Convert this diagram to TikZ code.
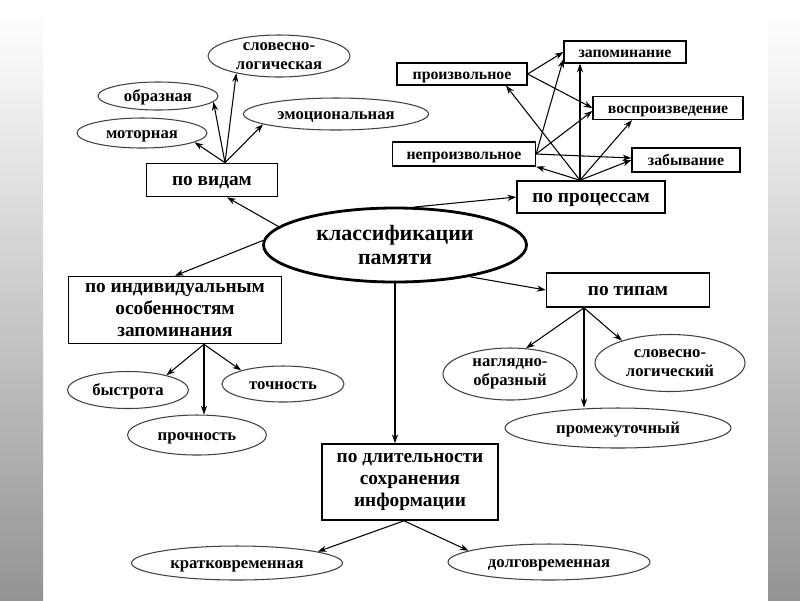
\documentclass[tikz,border=0pt]{standalone}
\usepackage{fontspec}
\setmainfont{Liberation Serif}
\usetikzlibrary{shapes.geometric,arrows.meta,positioning,calc}

\begin{document}
\begin{tikzpicture}[
  x=0.02cm, y=-0.02cm,
  wh/.style 2 args = {minimum width=#1*0.02cm, minimum height=#2*0.02cm},
  oneline/.style = {text height=1.6ex, text depth=0.35ex},
  root/.style = {draw, ellipse, line width=1.6pt, inner sep=0pt,
                 align=center, font=\bfseries\fontsize{12.5}{13.5}\selectfont},
  cat/.style  = {draw, line width=0.9pt, inner sep=0pt,
                 align=center, font=\bfseries\fontsize{11}{12.5}\selectfont},
  leaf/.style = {draw=black!75, ellipse, line width=0.6pt, inner sep=0pt,
                 align=center, font=\bfseries\fontsize{9.5}{10.5}\selectfont},
  pbox/.style = {draw, line width=0.7pt, inner sep=0pt, oneline,
                 font=\bfseries\fontsize{9}{11}\selectfont},
  arr/.style  = {-{Stealth[length=5pt,width=3.5pt]}, line width=0.6pt},
  band/.style = {top color=white, bottom color=black!42, draw=none},
]
\useasboundingbox (0,0) rectangle (800,600);

%% ─── slide edges ─────────────────────────────────────────────────────────
\fill[band] (0,12) rectangle (43,600);
\fill[band] (768,12) rectangle (800,600);

%% ─── centre ──────────────────────────────────────────────────────────────
\node[root, wh={263}{74}] (root) at (395,245) {классификации\\памяти};

%% ─── categories ──────────────────────────────────────────────────────────
\node[cat, oneline, wh={131}{33}] (vid)   at (212,180) {по видам};
\node[cat, oneline, wh={148}{32}] (proc)  at (591,197) {по процессам};
\node[cat, wh={213}{67}] (indiv) at (175,310) {по индивидуальным\\особенностям\\запоминания};
\node[cat, oneline, wh={163}{34}] (types) at (628,290) {по типам};
\node[cat, wh={176}{76}] (dur)   at (410,482) {по длительности\\сохранения\\информации};

%% ─── по видам ────────────────────────────────────────────────────────────
\node[leaf, wh={142}{42}] (slovlog)        at (279,56)  {словесно-\\логическая};
\node[leaf, oneline, wh={120}{28}] (obraz) at (158,96)  {образная};
\node[leaf, oneline, wh={130}{30}] (motor) at (142,133) {моторная};
\node[leaf, oneline, wh={185}{32}] (emo)   at (336,114) {эмоциональная};

%% ─── по процессам ────────────────────────────────────────────────────────
\node[pbox, wh={122}{22}] (zapom)    at (625,52)  {запоминание};
\node[pbox, wh={130}{22}] (proizv)   at (462,74)  {произвольное};
\node[pbox, wh={150}{23}] (vospr)    at (668,108) {воспроизведение};
\node[pbox, wh={143}{24}] (neproizv) at (464,154) {непроизвольное};
\node[pbox, wh={108}{24}] (zabyv)    at (686,160) {забывание};

%% ─── по индивидуальным особенностям ──────────────────────────────────────
\node[leaf, oneline, wh={121}{37}] (bystr)  at (128,390) {быстрота};
\node[leaf, oneline, wh={122}{36}] (tochn)  at (283,384) {точность};
\node[leaf, oneline, wh={139}{40}] (prochn) at (197,435) {прочность};

%% ─── по типам ────────────────────────────────────────────────────────────
\node[leaf, wh={134}{52}] (nagl)     at (510,374) {наглядно-\\образный};
\node[leaf, wh={150}{57}] (slovlog2) at (670,363) {словесно-\\логический};
\node[leaf, oneline, wh={226}{40}] (promezh) at (618,428) {промежуточный};

%% ─── по длительности ─────────────────────────────────────────────────────
\node[leaf, oneline, wh={211}{34}] (kratk) at (237,563) {кратковременная};
\node[leaf, oneline, wh={202}{36}] (dolg)  at (549,562) {долговременная};

%% ─── arrows from the centre ──────────────────────────────────────────────
\draw[arr] (root.171) -- ($(vid.south)+(15,0)$);
\draw[arr] (root.63)  -- (proc.west);
\draw[arr] (root.178) -- (indiv.north);
\draw[arr] (root.-23) -- (types.west);
\draw[arr] (root.south) -- (root.south |- dur.north);

%% ─── по видам ────────────────────────────────────────────────────────────
\coordinate (v0) at ($(vid.north)+(13,0)$);
\draw[arr] (v0) -- (motor.-10);
\draw[arr] (v0) -- (obraz.-6);
\draw[arr] (v0) -- (slovlog.202);
\draw[arr] (v0) -- (emo.188);

%% ─── по процессам ────────────────────────────────────────────────────────
\coordinate (p0) at ($(proc.north)+(-11,0)$);
\draw[arr] (p0) -- ($(proizv.south)+(44,0)$);
\draw[arr] (p0) -- (p0 |- zapom.south);
\draw[arr] (p0) -- ($(vospr.south)+(-36,0)$);
\draw[arr] (p0) -- (zabyv.west);
\draw[arr] (p0) -- (neproizv.south east);
\draw[arr] (proizv.east) -- (zapom.west);
\draw[arr] (proizv.east) -- (vospr.west);
\draw[arr] (neproizv.east) -- ($(zapom.west)+(0,7)$);
\draw[arr] (neproizv.east) -- ($(vospr.west)+(0,3)$);
\draw[arr] (neproizv.east) -- ($(zabyv.west)+(0,-2)$);

%% ─── по индивидуальным особенностям ──────────────────────────────────────
\coordinate (i0) at ($(indiv.south)+(29,0)$);
\draw[arr] (i0) -- (bystr.21);
\draw[arr] (i0) -- (i0 |- prochn.north);
\draw[arr] (i0) -- (tochn.162);

%% ─── по типам ────────────────────────────────────────────────────────────
\coordinate (t0) at ($(types.south)+(-44,0)$);
\draw[arr] (t0) -- (nagl.58);
\draw[arr] (t0) -- (t0 |- promezh.north);
\draw[arr] (t0) -- (slovlog2.155);

%% ─── по длительности ─────────────────────────────────────────────────────
\coordinate (d0) at ($(dur.south)+(-6,0)$);
\draw[arr] (d0) -- (kratk.8);
\draw[arr] (d0) -- (dolg.172);

\end{tikzpicture}
\end{document}
